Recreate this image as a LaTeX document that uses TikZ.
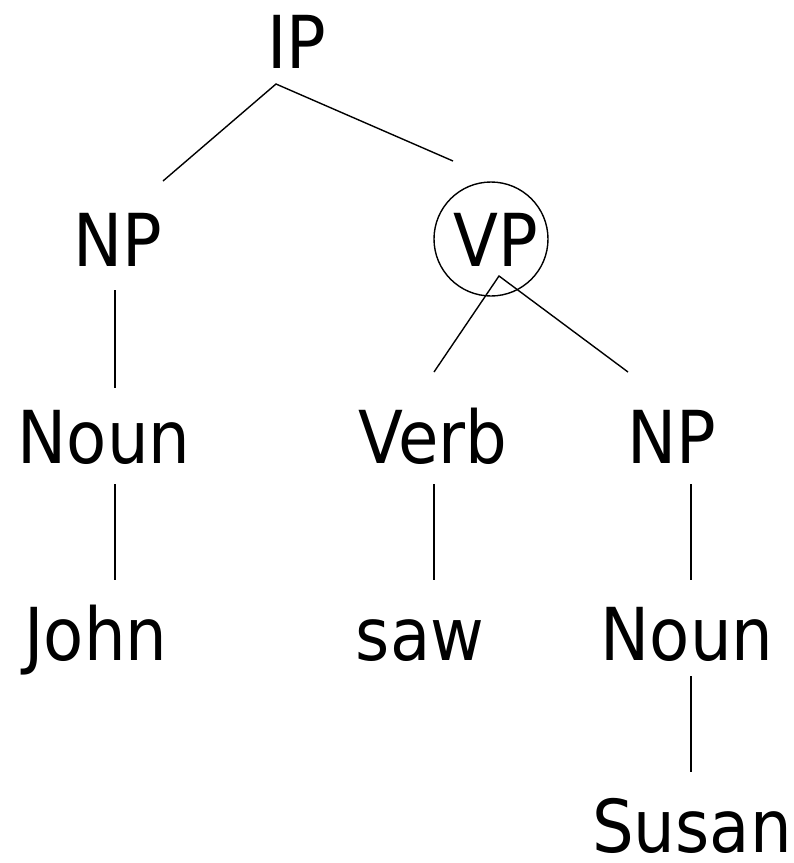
\documentclass[tikz,border=0pt]{standalone}
\usepackage{fontspec}
\setmainfont{DejaVu Sans Condensed}
\begin{document}
\begin{tikzpicture}[x=1pt,y=-1pt,
  lbl/.style={anchor=base,inner sep=0pt,font=\fontsize{73}{80}\selectfont},
  edge/.style={line width=1.4pt},
  ring/.style={draw,circle,line width=1.4pt,minimum size=114pt,inner sep=0pt}]
\useasboundingbox (0,0) rectangle (794,863);
% labels
\node[lbl] (ip) at (297,68) {IP};
\node[lbl] (np1) at (118,266) {NP};
\node[lbl] (vp) at (496,266) {VP};
\node[ring] (vpc) at (491,239) {};
\node[lbl] (noun1) at (104,463) {Noun};
\node[lbl] (verb) at (433,463) {Verb};
\node[lbl] (np2) at (672,463) {NP};
\node[lbl] (john) at (96,660) {John};
\node[lbl] (saw) at (420,660) {saw};
\node[lbl] (noun2) at (687,660) {Noun};
\node[lbl,text depth=0pt] (susan) at (692,852) {Susan};
% connector ends
\coordinate (ipb) at (276,84);
\coordinate (np1t) at (163,181);
\coordinate (vpt) at (453,161);
\coordinate (np1b) at (115,290);
\coordinate (noun1t) at (115,388);
\coordinate (vpb) at (499,276);
\coordinate (verbt) at (434,372);
\coordinate (np2t) at (628,372);
\coordinate (noun1b) at (115,484);
\coordinate (johnt) at (115,580);
\coordinate (verbb) at (434,484);
\coordinate (sawt) at (434,580);
\coordinate (np2b) at (691,484);
\coordinate (noun2t) at (691,580);
\coordinate (noun2b) at (691,676);
\coordinate (susant) at (691,772);
% connectors
\draw[edge] (np1t) -- (ipb) -- (vpt);
\draw[edge] (np1b) -- (noun1t);
\draw[edge] (verbt) -- (vpb) -- (np2t);
\draw[edge] (noun1b) -- (johnt);
\draw[edge] (verbb) -- (sawt);
\draw[edge] (np2b) -- (noun2t);
\draw[edge] (noun2b) -- (susant);
\end{tikzpicture}
\end{document}
